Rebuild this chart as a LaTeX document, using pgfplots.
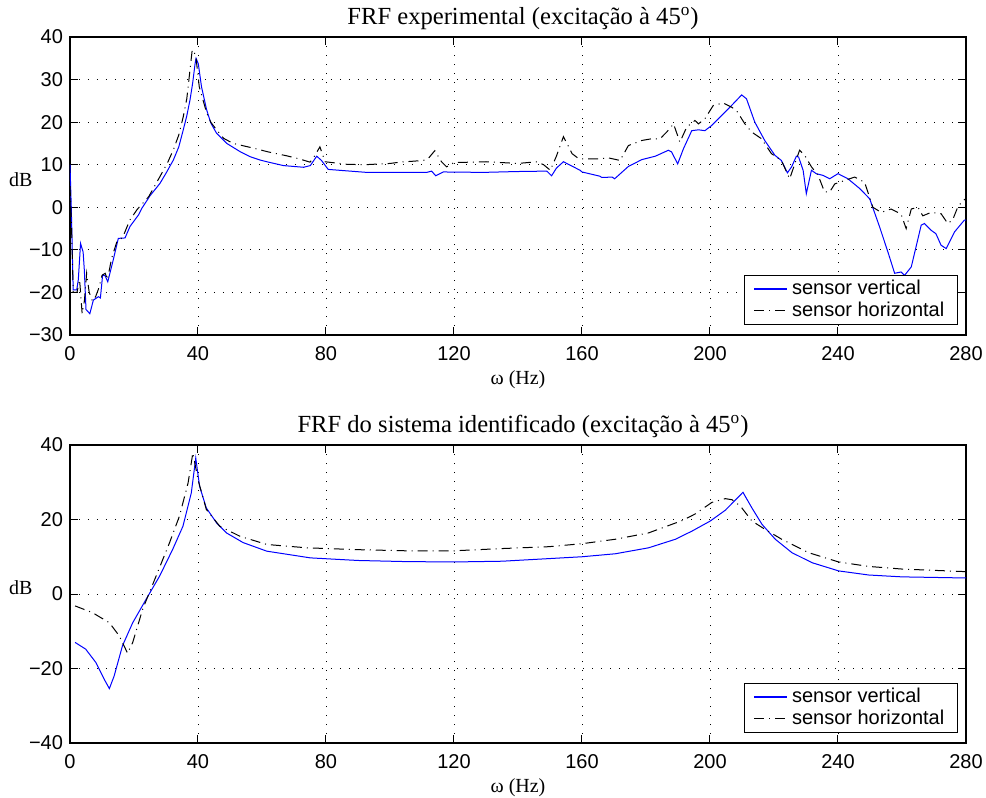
\documentclass[border=0pt]{standalone}
\usepackage{pgfplots}
\pgfplotsset{compat=1.18}
\usepackage{fontspec}
\setmainfont{Liberation Serif}
\setsansfont{Liberation Sans}
\definecolor{mblue}{rgb}{0,0,1}
\pgfplotsset{
  frfaxis/.style={
    scale only axis, width=448pt, height=149pt,
    xmin=0, xmax=280,
    xtick={0,40,80,120,160,200,240,280},
    xticklabels={0,40,80,120,160,200,240,280},
    grid=major,
    major grid style={black, line width=0.4pt, dash pattern=on 0.5pt off 4pt},
    tick align=inside, major tick length=4pt,
    xtick pos=both, ytick pos=both,
    axis line style={black, line width=0.6pt},
    every tick/.style={black, line width=0.5pt},
    ticklabel style={font=\sffamily\fontsize{10}{12}\selectfont},
    xticklabel style={yshift=-2pt},
    xlabel={ω (Hz)},
    xlabel style={font=\fontsize{10}{12}\selectfont, at={(axis description cs:0.5,0)}, anchor=center, yshift=-22.5pt},
    ylabel={dB},
    ylabel style={font=\fontsize{10}{12}\selectfont, rotate=-90, at={(axis description cs:-0.055,0.52)}, anchor=center},
    title style={font=\fontsize{12.3}{14}\selectfont, at={(axis description cs:0.5,1)}, anchor=base, yshift=0.3pt, xshift=2.5pt},
    legend style={at={(0.991,0.034)}, anchor=south east, draw=black, line width=0.6pt,
      font=\sffamily\fontsize{10}{12}\selectfont, row sep=-2pt, inner xsep=4.5pt, inner ysep=0.5pt},
    legend cell align=left,
    legend image code/.code={\draw[#1, line width=0.8pt] (0pt,0pt) -- (16.5pt,0pt);},
  },
  vert/.style={mblue, line width=0.5pt},
  horz/.style={black, line width=0.5pt, dash pattern=on 5pt off 2.5pt on 0.5pt off 2.5pt},
}
\begin{document}
\begin{tikzpicture}
\path[use as bounding box] (-35pt,-231.5pt) rectangle (458pt,167.5pt);
\begin{axis}[frfaxis, at={(0,0)}, anchor=south west,
  ymin=-30, ymax=40,
  ytick={-30,-20,-10,0,10,20,30,40},
  yticklabels={−30,−20,−10,0,10,20,30,40},
  title={FRF experimental (excitação à 45\textsuperscript{o})}]
\addplot[vert] coordinates {
(0,10) (0.4,0) (1,-19.4) (2.1,-19.4) (2.6,-17) (3.3,-8.5) (4.1,-10.5) (4.5,-15) (5,-24) (6.2,-25) (7.3,-21.8) (8.9,-21) (9.5,-21.3) (10.2,-15.9) (11,-16.1) (11.8,-17.5) (13.5,-12.4) (15.1,-7.3) (17.2,-7.2) (18.75,-4.5) (21.4,-1.8) (22.4,-0.3) (25,2.7) (28.1,5.6) (30,8) (32.3,11.1) (34,14.2) (35.4,18.2) (36.5,21.5) (37.5,25.2) (38.3,29) (39.1,33.8) (39.4,35) (40.1,33.7) (41.1,28.3) (42.7,22.9) (44,19.8) (45.8,17.4) (49,15) (53.1,13.1) (56.25,11.9) (59.4,11.1) (61.5,10.7) (66.7,9.8) (73,9.4) (75.1,9.8) (77.1,12.0) (78.6,11) (80.7,8.9) (87.5,8.5) (92.7,8.2) (103.1,8.2) (111.5,8.2) (113,8.5) (114.3,7.4) (116.7,8.3) (129.2,8.2) (139.6,8.4) (149,8.5) (150.5,7.4) (152,9.2) (154.2,10.7) (156,10) (159.4,8.7) (160,8.3) (165.6,7.3) (166.2,7.0) (169.4,7.1) (170.2,6.7) (174.5,9.6) (178.7,11.2) (182.9,12) (187,13.4) (188,13) (189.9,10.2) (191.7,13.75) (194.3,18) (196.4,18.2) (198.4,18) (200.5,19.2) (202.6,20.8) (205.7,23.1) (209.9,26.4) (211.4,25.5) (214,20) (217.1,15.7) (220.3,12.2) (222.3,11) (224.2,8.1) (225.5,9.5) (227,12) (227.7,11.8) (229.1,8.7) (230.1,3.2) (231.7,8.7) (233.2,7.9) (235.3,7.5) (237.4,6.7) (240,7.9) (243.1,6.7) (246.8,4.4) (249.9,2) (253,-4.6) (255.6,-10.5) (257.7,-15.5) (259.7,-15.2) (260.8,-16) (262.9,-14) (266,-4.2) (267,-3.8) (269.1,-5.4) (270.6,-6.2) (272.2,-8.9) (273.8,-9.7) (276.4,-5.8) (279.5,-3) (280,-3)
};
\addlegendentry{sensor vertical}
\addplot[horz] coordinates {
(0,5) (0.5,-5) (1,-20) (2.2,-20) (3,-17) (3.8,-25) (4.5,-22) (5.2,-15.5) (6,-20) (7,-22) (8,-21) (9,-19) (10,-16) (11,-15.5) (11.7,-17) (13,-12) (14.6,-8.2) (16.5,-7) (18.7,-3) (21,-0.5) (24.6,2.5) (28.1,7.2) (30.5,10.5) (32.3,13.5) (34,17) (35.4,21.3) (36.5,25.5) (37.5,32.3) (38.2,37) (38.8,36.5) (39.4,35) (40.4,28.3) (42.7,22.2) (44,20) (45.8,18.2) (48,16.2) (51,15) (57.3,13.9) (62,13) (67.7,12.1) (72,11.3) (75,10.6) (76,11.5) (78.1,14.2) (79.7,10.7) (86.5,10.1) (92,10) (100,10.3) (103.1,10.6) (110.4,11) (112,11.5) (114,13.3) (116.1,10.7) (117.7,9.5) (120,10.5) (130,10.7) (140,10.3) (145.9,10.7) (148,10) (150.1,8.7) (152,12) (154.2,16.6) (156.9,12.6) (159,11.4) (165.2,11.4) (168.3,11.6) (171.9,11) (174.5,14.5) (178.7,15.7) (181.8,16.1) (184.4,16.1) (186.5,17.7) (188.6,19.6) (190.6,15.3) (192.7,18.8) (195.3,20.4) (196.4,19.6) (198.4,20.8) (201,23.9) (204.1,24.5) (206.8,23.5) (208.3,22.7) (210.9,19.6) (213,17.7) (216.1,16.1) (219.2,12.6) (222.3,11) (224.9,6.7) (226.5,10.2) (228,13.4) (229.6,12.2) (231.7,9.5) (233.8,7.5) (235.8,3.6) (237.4,3.6) (239,5.5) (242.1,6.3) (245.2,7.1) (248.3,5.9) (250.9,0) (253.5,-1.2) (256.6,-0.4) (259.7,-1.6) (261.3,-5) (262.9,-0.4) (265,0) (266.5,-2) (269.1,-1.2) (272.2,-1.5) (274.3,-3.8) (275.8,-3) (277.4,0) (279,1.6) (280,2)
};
\addlegendentry{sensor horizontal}
\end{axis}
\begin{axis}[frfaxis, at={(0,-204pt)}, anchor=south west,
  ymin=-40, ymax=40,
  ytick={-40,-20,0,20,40},
  yticklabels={−40,−20,0,20,40},
  title={FRF do sistema identificado (excitação à 45\textsuperscript{o})}]
\addplot[vert] coordinates {
(1.6,-13) (4.9,-14.8) (8.1,-18.4) (10.7,-22.9) (12.3,-25.4) (13.8,-22) (16.4,-13.9) (19.6,-7.7) (23.8,-1.4) (28,4.8) (32.1,12) (35.3,18.2) (37.9,27.1) (39.3,36.5) (40.5,28.9) (42.6,23.1) (45.8,19.1) (48.9,16.4) (54.1,13.8) (61.5,11.5) (75.1,9.7) (90,9.0) (105,8.7) (120,8.6) (135,8.8) (149.6,9.5) (160,10) (170.4,10.8) (180.8,12.4) (189.2,14.7) (194.4,16.9) (200.1,19.6) (204.8,22.5) (210.3,27.3) (213.1,23.1) (216.25,18.7) (220.4,14.7) (225.6,11.1) (231.9,8.4) (240.2,6.2) (249.6,5.1) (260,4.6) (280,4.3)
};
\addlegendentry{sensor vertical}
\addplot[horz] coordinates {
(1.6,-3.2) (7,-5) (12.3,-7.7) (15.4,-11.25) (18,-15.9) (19.6,-13) (22.7,-4.1) (26.9,4.8) (31.1,13.75) (34.2,20.9) (36.9,29.8) (38.4,37.9) (40,30.7) (42.6,22.7) (46.8,18.2) (53.1,15.5) (61.5,13.3) (74,12.4) (90,11.9) (105,11.6) (120,11.6) (135,12.2) (149.6,12.7) (160,13.5) (170.4,14.7) (180.8,16.4) (191.25,19.7) (195.4,21.5) (200.6,24.6) (204.8,25.6) (206.9,25.3) (209.5,23.6) (213.1,19.6) (217.3,17.3) (222.4,14.7) (230.8,11.1) (240.2,8.6) (249.6,7.4) (260,6.7) (280,6)
};
\addlegendentry{sensor horizontal}
\end{axis}
\end{tikzpicture}
\end{document}
